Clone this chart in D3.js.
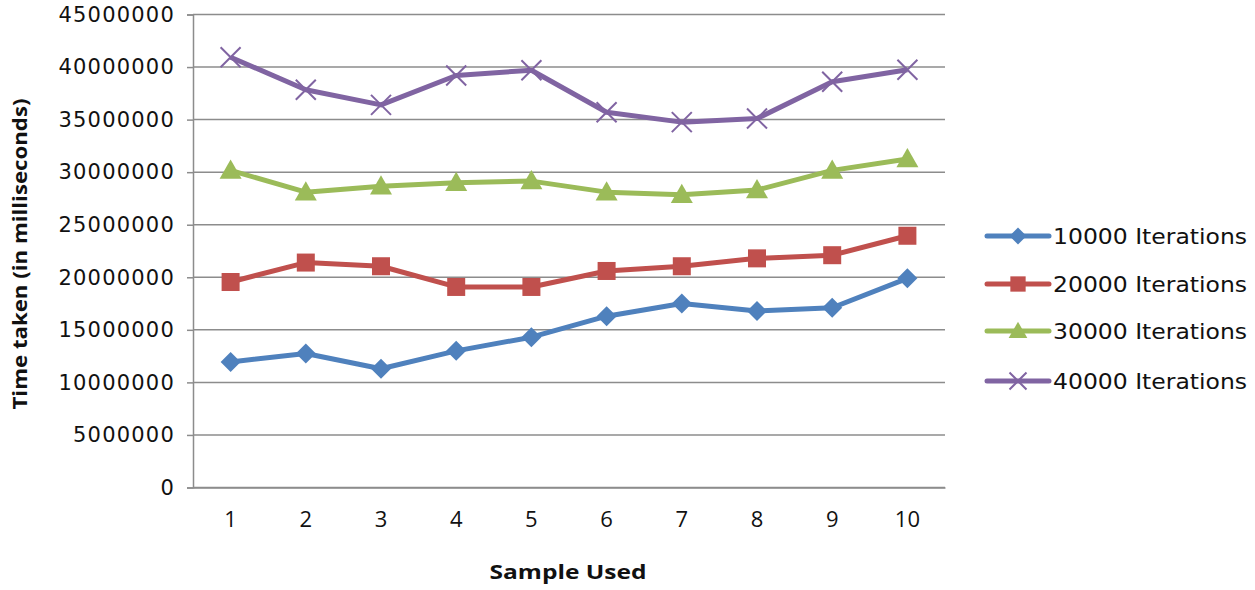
<!DOCTYPE html>
<html><head><meta charset="utf-8">
<script src="https://cdn.jsdelivr.net/npm/d3@7"></script>
<style>html,body{margin:0;padding:0;background:#fff;}svg{display:block;}</style>
</head><body><svg id="c" width="1255" height="590"></svg>
<script>
const categories = ["1","2","3","4","5","6","7","8","9","10"];
const seriesNames = ["10000 Iterations","20000 Iterations","30000 Iterations","40000 Iterations"];
const s10000 = [11950000,12750000,11300000,13000000,14300000,16300000,17500000,16800000,17100000,19900000];
const s20000 = [19550000,21400000,21050000,19080000,19080000,20600000,21050000,21800000,22100000,23950000];
const s30000 = [30170000,28100000,28650000,29000000,29150000,28100000,27860000,28300000,30170000,31250000];
const s40000 = [40940000,37840000,36400000,39200000,39700000,35700000,34760000,35100000,38600000,39750000];
const yTicks = [0,5000000,10000000,15000000,20000000,25000000,30000000,35000000,40000000,45000000];
const colors = ["#4F81BD","#C0504D","#9BBB59","#8064A2"];
const markers = ["diamond","square","triangle","x"];
const allSeries = [s10000,s20000,s30000,s40000];

const svg = d3.select("#c");
const L = 193, R = 945, T = 14.5, B = 487.5;
const x = d3.scaleBand().domain(categories).range([L,R]);
const y = d3.scaleLinear().domain([0,45000000]).range([B,T]);

// gridlines
svg.append("g").selectAll("line").data(yTicks).join("line")
  .attr("x1",L).attr("x2",R).attr("y1",d=>y(d)).attr("y2",d=>y(d))
  .attr("stroke","#8c8c8c").attr("stroke-width",1.5);

// y axis
const yAxis = d3.axisLeft(y).tickValues(yTicks).tickSize(6).tickPadding(12).tickFormat(d3.format("d"));
const gy = svg.append("g").attr("transform",`translate(${L},0)`).call(yAxis);
gy.select(".domain").attr("stroke","#8c8c8c").attr("stroke-width",1.5);
gy.selectAll(".tick line").attr("stroke","#8c8c8c").attr("stroke-width",1.5);
gy.selectAll("text").attr("font-family","DejaVu Sans").attr("font-size",21).attr("letter-spacing","1.2px").attr("fill","#111").attr("x",-18);

// x axis
const xAxis = d3.axisBottom(x).tickSize(0).tickPadding(22);
const gx = svg.append("g").attr("transform",`translate(0,${B})`).call(xAxis);
gx.select(".domain").attr("stroke","#8c8c8c").attr("stroke-width",1.5);
gx.selectAll("text").attr("font-family","Open Sans").attr("font-size",22).attr("fill","#111")
  .attr("y",39.5).attr("dy",0);

// axis titles
svg.append("text").attr("x",568).attr("y",579).attr("text-anchor","middle")
  .attr("font-family","Open Sans").attr("font-weight","bold").attr("font-size",20).attr("fill","#111")
  .attr("textLength",157).attr("lengthAdjust","spacingAndGlyphs").text("Sample Used");
svg.append("text").attr("transform","translate(27,254) rotate(-90)").attr("text-anchor","middle")
  .attr("font-family","Open Sans").attr("font-weight","bold").attr("font-size",20).attr("fill","#111")
  .attr("textLength",311).attr("lengthAdjust","spacingAndGlyphs").text("Time taken (in milliseconds)");

function drawMarker(g, type, color, cx, cy, scale) {
  const s = scale || 1;
  if (type === "diamond") {
    const r = 10*s;
    g.append("path").attr("d",`M${cx},${cy-r}L${cx+r},${cy}L${cx},${cy+r}L${cx-r},${cy}Z`).attr("fill",color);
  } else if (type === "square") {
    const r = 9*s;
    g.append("rect").attr("x",cx-r).attr("y",cy-r).attr("width",2*r).attr("height",2*r).attr("fill",color);
  } else if (type === "triangle") {
    const r = 11*s;
    g.append("path").attr("d",`M${cx},${cy-r}L${cx+r},${cy+r*0.75}L${cx-r},${cy+r*0.75}Z`).attr("fill",color);
  } else {
    const r = 10*s;
    g.append("path").attr("d",`M${cx-r},${cy-r}L${cx+r},${cy+r}M${cx-r},${cy+r}L${cx+r},${cy-r}`)
      .attr("stroke",color).attr("stroke-width",2).attr("fill","none");
  }
}

const line = d3.line().x((d,i)=>x(categories[i])+x.bandwidth()/2).y(d=>y(d));
allSeries.forEach((data,k)=>{
  const g = svg.append("g");
  g.append("path").attr("d",line(data)).attr("fill","none").attr("stroke",colors[k]).attr("stroke-width",5).attr("stroke-linejoin","round");
  data.forEach((v,i)=>drawMarker(g, markers[k], colors[k], x(categories[i])+x.bandwidth()/2, y(v)));
});

// legend
const legY = [236,284,331,381];
seriesNames.forEach((name,k)=>{
  const g = svg.append("g");
  g.append("line").attr("x1",987).attr("x2",1049).attr("y1",legY[k]).attr("y2",legY[k]).attr("stroke",colors[k]).attr("stroke-width",5).attr("stroke-linecap","round");
  drawMarker(g, markers[k], colors[k], 1018, legY[k], 0.85);
  g.append("text").attr("x",1053).attr("y",legY[k]+7.5).attr("font-family","DejaVu Sans").attr("font-size",21)
    .attr("fill","#111").attr("textLength",194).attr("lengthAdjust","spacingAndGlyphs").text(name);
});
</script></body></html>
